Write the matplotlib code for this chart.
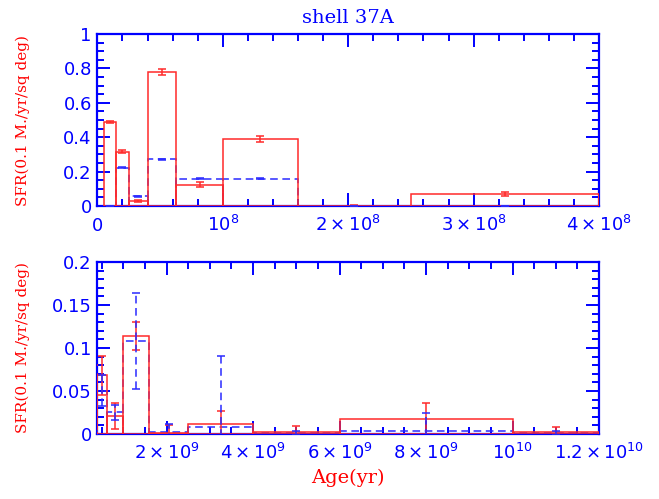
import matplotlib
matplotlib.use("Agg")
import matplotlib.pyplot as plt
from matplotlib.ticker import MultipleLocator
import numpy as np

# age bins (yr)
bin_lo = [5e6, 1.5e7, 2.5e7, 4e7, 6.3e7, 1e8, 1.6e8, 2.5e8,
          4e8, 6.3e8, 1e9, 1.6e9, 2.5e9, 4e9, 6e9, 1e10]
bin_hi = [1.5e7, 2.5e7, 4e7, 6.3e7, 1e8, 1.6e8, 2.5e8, 4e8,
          6.3e8, 1e9, 1.6e9, 2.5e9, 4e9, 6e9, 1e10, 1.2e10]

# SFR, red solid
sfr_red = [0.489, 0.317, 0.029, 0.78, 0.125, 0.39, 0.002, 0.07,
           0.068, 0.021, 0.114, 0.001, 0.0116, 0.002, 0.017, 0.002]
err_red = [0.008, 0.007, 0.004, 0.015, 0.015, 0.015, 0.006, 0.01,
           0.023, 0.015, 0.016, 0.01, 0.015, 0.007, 0.019, 0.0065]

# SFR, blue dashed
sfr_blue = [0.0, 0.224, 0.058, 0.272, 0.16, 0.16, 0.001, 0.001,
            0.05, 0.025, 0.108, 0.002, 0.008, 0.001, 0.003, 0.001]
err_blue = [0.002, 0.003, 0.003, 0.003, 0.003, 0.003, 0.002, 0.002,
            0.018, 0.009, 0.056, 0.01, 0.083, 0.002, 0.021, 0.002]

top_ticks = [0, 1e8, 2e8, 3e8, 4e8]
top_labels = [r'$0$', r'$10^8$', r'$2\times10^8$', r'$3\times10^8$', r'$4\times10^8$']
bot_ticks = [2e9, 4e9, 6e9, 8e9, 1e10, 1.2e10]
bot_labels = [r'$2\times10^9$', r'$4\times10^9$', r'$6\times10^9$',
              r'$8\times10^9$', r'$10^{10}$', r'$1.2\times10^{10}$']

BLUE = '#0000ff'
RED = '#ff2a2a'
LBLUE = '#2a2aff'
YLAB = 'SFR(0.1 M./yr/sq deg)'


def draw_hist(ax):
	lo = np.array(bin_lo)
	hi = np.array(bin_hi)
	mid = (lo + hi) / 2
	ax.bar(lo, sfr_red, width=hi - lo, align='edge', fill=False,
	       edgecolor=RED, linewidth=1.1, zorder=3)
	ax.bar(lo, sfr_blue, width=hi - lo, align='edge', fill=False,
	       edgecolor=LBLUE, linewidth=1.1, linestyle=(0, (5, 3)), zorder=2)
	ax.errorbar(mid, sfr_red, yerr=err_red, fmt='none', ecolor=RED,
	            elinewidth=1.1, capsize=3, capthick=1.1, zorder=4)
	eb = ax.errorbar(mid, sfr_blue, yerr=err_blue, fmt='none', ecolor=LBLUE,
	                 elinewidth=1.1, capsize=3, capthick=1.1, zorder=4)
	eb[2][0].set_linestyle((0, (5, 3)))


def style_axes(ax):
	for s in ax.spines.values():
		s.set_color(BLUE)
		s.set_linewidth(1.6)
	ax.tick_params(which='both', direction='in', top=True, right=True,
	               color=BLUE, labelcolor=BLUE, labelsize=13)
	ax.tick_params(which='major', length=9.5, width=1.4)
	ax.tick_params(which='minor', length=4.7, width=1.4)
	ax.tick_params(axis='y', pad=4)
	ax.tick_params(axis='x', pad=18)
	for lab in ax.get_xticklabels():
		lab.set_verticalalignment('baseline')
	ax.set_ylabel(YLAB, color='red', family='DejaVu Serif', fontsize=11)
	ax.yaxis.set_label_coords(-0.134, 0.5)


fig = plt.figure(figsize=(6.59, 4.99), dpi=100)

ax1 = fig.add_axes([0.1477, 0.587, 0.7613, 0.3447])
draw_hist(ax1)
ax1.set_xlim(0, 4e8)
ax1.set_ylim(0, 1)
ax1.set_xticks(top_ticks)
ax1.set_xticklabels(top_labels)
ax1.xaxis.set_minor_locator(MultipleLocator(2e7))
ax1.set_yticks([0, 0.2, 0.4, 0.6, 0.8, 1.0])
ax1.set_yticklabels(['0', '0.2', '0.4', '0.6', '0.8', '1'])
ax1.yaxis.set_minor_locator(MultipleLocator(0.05))
style_axes(ax1)
ax1.set_title('shell 37A', color=BLUE, family='DejaVu Serif', fontsize=14, pad=8)

ax2 = fig.add_axes([0.1477, 0.1303, 0.7613, 0.3447])
draw_hist(ax2)
ax2.set_xlim(4e8, 1.2e10)
ax2.set_ylim(0, 0.2)
ax2.set_xticks(bot_ticks)
ax2.set_xticklabels(bot_labels)
ax2.xaxis.set_minor_locator(MultipleLocator(5e8))
ax2.set_yticks([0, 0.05, 0.1, 0.15, 0.2])
ax2.set_yticklabels(['0', '0.05', '0.1', '0.15', '0.2'])
ax2.yaxis.set_minor_locator(MultipleLocator(0.01))
style_axes(ax2)
ax2.set_xlabel('Age(yr)', color='red', family='DejaVu Serif', fontsize=14, labelpad=4)

fig.savefig('out.png', dpi=100)
